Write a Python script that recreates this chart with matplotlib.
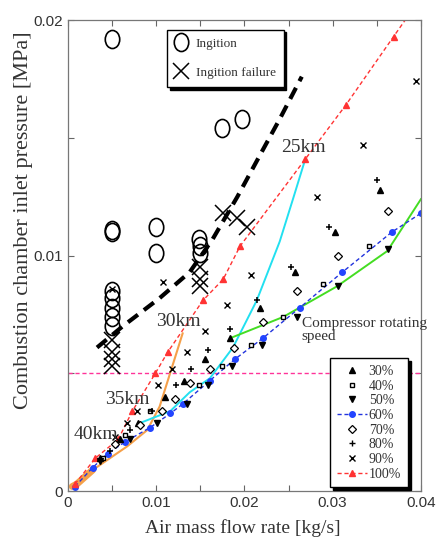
import matplotlib
matplotlib.use("Agg")
from matplotlib import pyplot as plt
from matplotlib.path import Path
from matplotlib.transforms import Affine2D
from matplotlib.lines import Line2D

# ignition test points
ign_x = [0.0050, 0.0050, 0.0050, 0.0050, 0.0050, 0.0050, 0.0050, 0.0050, 0.0100, 0.0100, 0.0148, 0.0150, 0.0150, 0.0175, 0.0197]
ign_y = [0.0192, 0.0111, 0.0110, 0.0085, 0.0082, 0.0078, 0.0074, 0.0070, 0.0112, 0.0101, 0.0107, 0.0104, 0.0101, 0.0154, 0.0158]
fail_x = [0.0050, 0.0050, 0.0050, 0.0050, 0.0150, 0.0150, 0.0150, 0.0176, 0.0192, 0.0203]
fail_y = [0.0064, 0.0059, 0.0056, 0.0053, 0.0095, 0.0090, 0.0087, 0.0118, 0.0116, 0.0112]

# ignition boundary (thick dashed)
bd_x = [0.0033, 0.0062, 0.0104, 0.0138, 0.0164, 0.0192, 0.0221, 0.0240, 0.0265]
bd_y = [0.0061, 0.0070, 0.0082, 0.0093, 0.0107, 0.0125, 0.0145, 0.0158, 0.0176]

# compressor speed lines
r100_x = [0.0008, 0.0031, 0.0057, 0.0073, 0.0099, 0.0113, 0.0153, 0.0176, 0.0195, 0.0269, 0.0315, 0.0369, 0.0384]
r100_y = [0.0003, 0.0014, 0.0022, 0.0034, 0.0050, 0.0059, 0.0081, 0.0090, 0.0104, 0.0141, 0.0164, 0.0193, 0.0201]
b60_x = [0.0008, 0.0028, 0.0045, 0.0065, 0.0093, 0.0116, 0.0130, 0.0161, 0.0189, 0.0221, 0.0263, 0.0311, 0.0367, 0.0400]
b60_y = [0.0002, 0.0010, 0.0016, 0.0021, 0.0027, 0.0033, 0.0037, 0.0047, 0.0056, 0.0065, 0.0078, 0.0093, 0.0110, 0.0118]

# altitude lines
alt20_x = [0.0184, 0.0244, 0.0305, 0.0362, 0.0400]
alt20_y = [0.0065, 0.0074, 0.0087, 0.0102, 0.0124]
alt25_x = [0.0082, 0.0116, 0.0138, 0.0161, 0.0187, 0.0214, 0.0240, 0.0255, 0.0269]
alt25_y = [0.0029, 0.0034, 0.0042, 0.0048, 0.0061, 0.0081, 0.0106, 0.0124, 0.0141]
alt30_x = [0.0005, 0.0010, 0.0028, 0.0067, 0.0090, 0.0104, 0.0130]
alt30_y = [0.0002, 0.0003, 0.0009, 0.0019, 0.0026, 0.0036, 0.0067]

# scattered points per speed
p30_x = [0.0036, 0.0059, 0.0079, 0.0110, 0.0131, 0.0155, 0.0184, 0.0218, 0.0257, 0.0303, 0.0354]
p30_y = [0.0014, 0.0022, 0.0029, 0.0040, 0.0047, 0.0056, 0.0065, 0.0078, 0.0093, 0.0110, 0.0128]
p40_x = [0.0040, 0.0065, 0.0093, 0.0148, 0.0175, 0.0207, 0.0244, 0.0289, 0.0341]
p40_y = [0.0014, 0.0024, 0.0034, 0.0045, 0.0053, 0.0062, 0.0074, 0.0088, 0.0104]
p50_x = [0.0036, 0.0070, 0.0101, 0.0135, 0.0159, 0.0186, 0.0220, 0.0260, 0.0306, 0.0363]
p50_y = [0.0013, 0.0022, 0.0029, 0.0037, 0.0045, 0.0053, 0.0062, 0.0074, 0.0087, 0.0103]
p70_x = [0.0053, 0.0082, 0.0107, 0.0121, 0.0138, 0.0161, 0.0188, 0.0221, 0.0260, 0.0306, 0.0363]
p70_y = [0.0020, 0.0028, 0.0034, 0.0039, 0.0046, 0.0052, 0.0061, 0.0072, 0.0085, 0.0100, 0.0119]
p80_x = [0.0048, 0.0070, 0.0095, 0.0122, 0.0139, 0.0159, 0.0184, 0.0214, 0.0253, 0.0296, 0.0350]
p80_y = [0.0017, 0.0026, 0.0034, 0.0045, 0.0052, 0.0060, 0.0069, 0.0081, 0.0095, 0.0112, 0.0132]
p90_x = [0.0053, 0.0067, 0.0078, 0.0102, 0.0118, 0.0135, 0.0155, 0.0180, 0.0208, 0.0282, 0.0334, 0.0394, 0.0050, 0.0108]
p90_y = [0.0023, 0.0029, 0.0034, 0.0045, 0.0052, 0.0059, 0.0068, 0.0079, 0.0092, 0.0125, 0.0147, 0.0174, 0.0086, 0.0089]

limit_p = 0.005

serif = "Liberation Serif"
sans = "Liberation Sans"
txt = "#333333"

fig = plt.figure(figsize=(4.38, 5.44), dpi=100)
ax = fig.add_axes([0.155, 0.097, 0.806, 0.866])

# tall ellipse marker for the ignition circles
ell = Path.unit_circle().transformed(Affine2D().scale(0.8, 1.0))

ax.axhline(limit_p, color="#ff3399", ls=(0, (3, 2)), lw=1.0)

ax.plot(alt30_x, alt30_y, color="#f5a04a", lw=1.5)
ax.plot(alt30_x[:3], alt30_y[:3], color="#f5a04a", lw=5, solid_capstyle="round")
ax.plot(alt25_x, alt25_y, color="#22e0f0", lw=1.4)
ax.plot(alt20_x, alt20_y, color="#44dd22", lw=1.4)

ax.plot(b60_x, b60_y, color="#2233dd", ls=(0, (3, 2)), lw=1.0, marker="o", ms=4, mfc="#2244ff", mec="#2244ff")
ax.plot(r100_x, r100_y, color="#ff3333", ls=(0, (3, 2)), lw=1.0, marker="^", ms=4,
        mfc="#ff3333", mec="#ff3333", markevery=list(range(len(r100_x) - 1)))

ax.plot(p30_x, p30_y, ls="none", marker="^", ms=4, color="black")
ax.plot(p40_x, p40_y, ls="none", marker="s", ms=3.5, mfc="white", mec="black", mew=1)
ax.plot(p50_x, p50_y, ls="none", marker="v", ms=4, color="black")
ax.plot(p70_x, p70_y, ls="none", marker="D", ms=4, mfc="white", mec="black", mew=0.9)
ax.plot(p80_x, p80_y, ls="none", marker="+", ms=5, color="black", mew=1.1)
ax.plot(p90_x, p90_y, ls="none", marker="x", ms=4, color="black", mew=1)

ax.plot(bd_x, bd_y, color="black", lw=3, ls=(0, (3, 1.8)))

ax.plot(ign_x, ign_y, ls="none", marker=ell, ms=13, mfc="none", mec="black", mew=1.2)
ax.plot(fail_x, fail_y, ls="none", marker="x", ms=12, color="black", mew=1.1)

ax.set_xlim(0, 0.04)
ax.set_ylim(0, 0.02)
ax.set_xticks([0, 0.01, 0.02, 0.03, 0.04])
ax.set_xticklabels(["0", "0.01", "0.02", "0.03", "0.04"])
ax.set_yticks([0, 0.01, 0.02])
ax.set_yticklabels(["0", "0.01", "0.02"])
ax.set_xticks([0.005, 0.015, 0.025, 0.035], minor=True)
ax.set_yticks([0.005, 0.015], minor=True)
ax.tick_params(which="both", direction="in", top=True, right=True, length=4, width=0.8,
               color="#666666", labelsize=11, labelcolor=txt)
for lab in ax.get_xticklabels() + ax.get_yticklabels():
    lab.set_fontfamily(sans)
for sp in ax.spines.values():
    sp.set_color("#777777")
    sp.set_linewidth(0.9)

ax.set_xlabel("Air mass flow rate [kg/s]", fontfamily=serif, fontsize=14, color=txt)
ax.set_ylabel("Combustion chamber inlet pressure [MPa]", fontfamily=serif, fontsize=16, color=txt)
ax.xaxis.set_label_coords(0.496, -0.06)
ax.yaxis.set_label_coords(-0.10, 0.575)

ax.text(0.0242, 0.0146, "25km", fontfamily=serif, fontsize=14, color=txt, va="center")
ax.text(0.0100, 0.0072, "30km", fontfamily=serif, fontsize=14, color=txt, va="center")
ax.text(0.0042, 0.0039, "35km", fontfamily=serif, fontsize=14, color=txt, va="center")
ax.text(0.0006, 0.0024, "40km", fontfamily=serif, fontsize=14, color=txt, va="center")
ax.text(0.0265, 0.0074, "Compressor rotating\nspeed", fontfamily=serif, fontsize=11, color=txt,
        va="top", linespacing=1.0)

# legend for the ignition markers
h1 = [Line2D([], [], ls="none", marker=ell, ms=13, mfc="none", mec="black", mew=1.2),
      Line2D([], [], ls="none", marker="x", ms=12, color="black", mew=1.1)]
leg1 = ax.legend(h1, ["Ingition", "Ingition failure"], loc="upper left", bbox_to_anchor=(0.28, 0.98),
                 prop={"family": serif, "size": 9.5}, frameon=True, fancybox=False, edgecolor="black",
                 framealpha=1, shadow={"color": "black", "alpha": 1}, labelspacing=1.3,
                 handlelength=1.0, handletextpad=0.6, borderpad=0.6, borderaxespad=0)
leg1.get_frame().set_linewidth(1.0)
for t in leg1.get_texts():
    t.set_color(txt)
ax.add_artist(leg1)

# legend for the compressor speeds
h2 = [Line2D([], [], ls="none", marker="^", ms=4, color="black"),
      Line2D([], [], ls="none", marker="s", ms=3.5, mfc="white", mec="black"),
      Line2D([], [], ls="none", marker="v", ms=4, color="black"),
      Line2D([], [], color="#2233dd", ls=(0, (3, 2)), lw=1.0, marker="o", ms=4, mfc="#2244ff", mec="#2244ff"),
      Line2D([], [], ls="none", marker="D", ms=4, mfc="white", mec="black", mew=0.9),
      Line2D([], [], ls="none", marker="+", ms=5, color="black"),
      Line2D([], [], ls="none", marker="x", ms=4, color="black"),
      Line2D([], [], color="#ff3333", ls=(0, (3, 2)), lw=1.0, marker="^", ms=4, mfc="#ff3333", mec="#ff3333")]
labs2 = ["30%", "40%", "50%", "60%", "70%", "80%", "90%", "100%"]
leg2 = ax.legend(h2, labs2, loc="lower left", bbox_to_anchor=(0.742, 0.008),
                 prop={"family": serif, "size": 10}, frameon=True, fancybox=False, edgecolor="black",
                 framealpha=1, shadow={"color": "black", "alpha": 1}, labelspacing=0.12,
                 handlelength=2.2, handletextpad=0.1, borderpad=0.5, borderaxespad=0)
leg2.get_frame().set_linewidth(1.0)
for t in leg2.get_texts():
    t.set_color(txt)

plt.savefig("out.png", dpi=100)
